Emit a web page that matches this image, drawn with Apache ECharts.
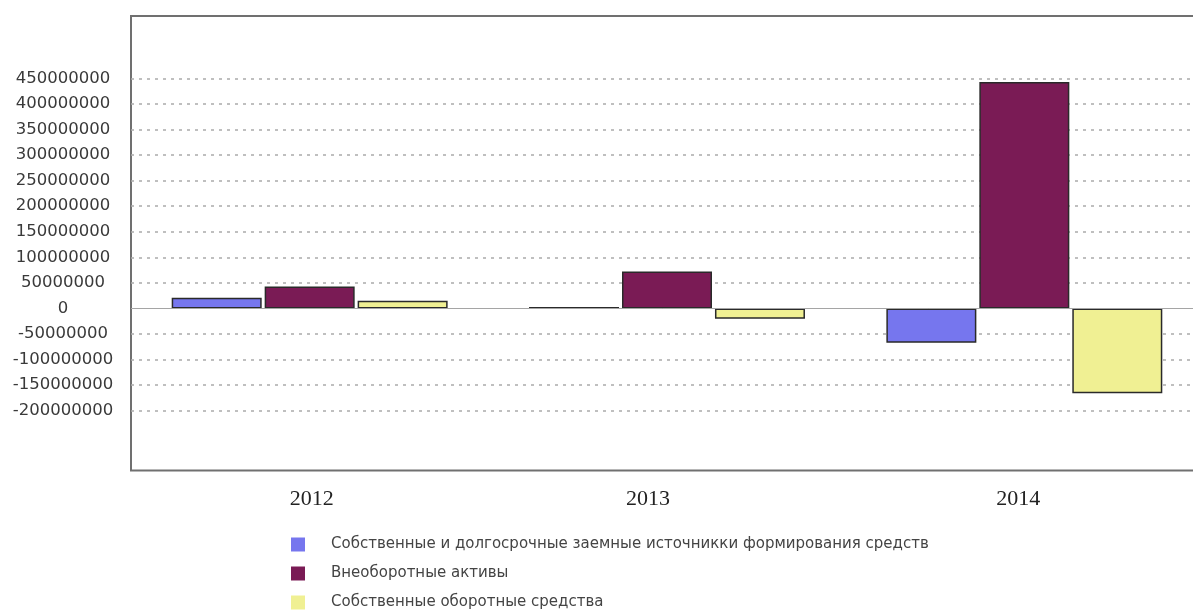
<!DOCTYPE html>
<html>
<head>
<meta charset="utf-8">
<script src="https://cdn.jsdelivr.net/npm/echarts@6/dist/echarts.min.js"></script>
<style>
  html, body { margin: 0; padding: 0; background: #fff; }
  #chart { width: 1193px; height: 610px; }
</style>
</head>
<body>
<div id="chart"></div>
<script>
// Categories (years)
const years = ['2012', '2013', '2014'];

// Series names (legend)
const seriesNames = [
  'Собственные и долгосрочные заемные источникки формирования средств',
  'Внеоборотные активы',
  'Собственные оборотные средства'
];

// Series values
const ownAndLongTermSources = [21000000, 3000000, -67000000];
const nonCurrentAssets = [43000000, 72000000, 443000000];
const ownWorkingCapital = [15000000, -20000000, -166000000];

// Value-axis tick labels
const yTickValues = [-200000000, -150000000, -100000000, -50000000, 0,
  50000000, 100000000, 150000000, 200000000, 250000000,
  300000000, 350000000, 400000000, 450000000];
// Dashed grid lines (zero gets its own solid line)
const yGridValues = yTickValues.filter(v => v !== 0);

// Visible value range of the plot box
const yMin = -317000000;
const yMax = 572000000;

const colors = ['#7676ee', '#7a1b55', '#f0f093'];
// Small horizontal nudges of individual year labels (px)
const yearLabelShift = [2, -19, -6];

const chart = echarts.init(document.getElementById('chart'), null, { renderer: 'canvas' });

const seriesValues = [ownAndLongTermSources, nonCurrentAssets, ownWorkingCapital];

const series = seriesNames.map((name, i) => {
  const s = {
    name: name,
    type: 'bar',
    data: seriesValues[i],
    barWidth: 90,
    barGap: '3.3%',
    itemStyle: { color: colors[i], borderColor: '#2a2a2a', borderWidth: 1.5 },
    emphasis: { disabled: true }
  };
  if (i === 0) {
    s.markLine = {
      silent: true,
      symbol: 'none',
      label: { show: false },
      lineStyle: { type: 'solid', color: '#a5a5a5', width: 1 },
      data: [{ yAxis: 0 }]
    };
  }
  return s;
});

const option = {
  animation: false,
  backgroundColor: '#ffffff',
  grid: {
    left: 131, top: 16, width: 1072, bottom: 139.5,
    show: true, borderColor: '#707070', borderWidth: 2,
    containLabel: false,
    outerBoundsMode: 'none'
  },
  legend: {
    data: seriesNames,
    orient: 'vertical',
    left: 291,
    top: 537,
    height: 80,
    padding: 0,
    itemWidth: 14,
    itemHeight: 14,
    itemGap: 14,
    icon: 'rect',
    selectedMode: false,
    itemStyle: { borderWidth: 0 },
    textStyle: {
      fontFamily: 'DejaVu Sans',
      fontSize: 15,
      lineHeight: 14,
      color: '#444',
      padding: [0, 0, 0, 21]
    }
  },
  xAxis: {
    type: 'category',
    data: years.map((y, i) => ({
      value: y,
      textStyle: {
        padding: yearLabelShift[i] >= 0 ? [0, 0, 0, 2 * yearLabelShift[i]] : [0, -2 * yearLabelShift[i], 0, 0]
      }
    })),
    axisLine: { show: false, onZero: false },
    axisTick: { show: false },
    splitLine: { show: false },
    axisLabel: {
      fontFamily: 'Liberation Serif',
      fontSize: 22,
      color: '#222',
      margin: 18
    }
  },
  yAxis: {
    type: 'value',
    min: yMin,
    max: yMax,
    axisLine: { show: false },
    axisTick: { show: false, customValues: yGridValues },
    axisLabel: {
      customValues: yTickValues,
      formatter: v => String(Math.round(v)),
      fontFamily: 'DejaVu Sans',
      fontSize: 16.5,
      color: '#3a3a3a',
      align: 'center',
      margin: 68
    },
    splitLine: {
      show: true,
      lineStyle: { type: [3, 5], color: '#ababab', width: 1.5 }
    }
  },
  series: series
};

chart.setOption(option);
</script>
</body>
</html>
